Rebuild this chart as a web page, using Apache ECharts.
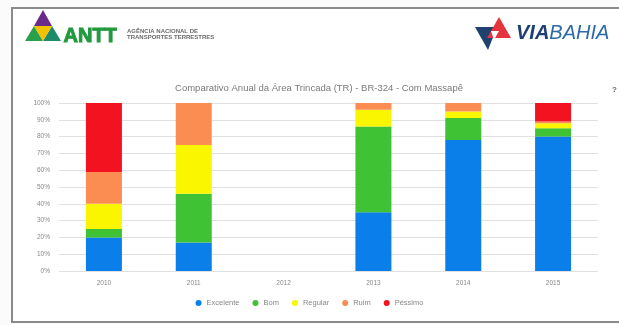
<!DOCTYPE html>
<html><head><meta charset="utf-8">
<script src="https://cdn.jsdelivr.net/npm/echarts@6/dist/echarts.min.js"></script>
<style>html,body{margin:0;padding:0;background:#fbfbfb}#c{width:619px;height:325px}</style>
</head><body><div id="c"></div>
<script>
const categories = ['2010', '2011', '2012', '2013', '2014', '2015'];
const excelente = [20, 17, null, 35, 78, 80];
const bom = [5, 29, null, 51, 13, 5];
const regular = [15, 29, null, 10, 4, 3];
const ruim = [19, 25, null, 4, 5, 1];
const pessimo = [41, 0, null, 0, 0, 11];
const seriesNames = ['Excelente', 'Bom', 'Regular', 'Ruim', 'Péssimo'];
const yTicks = [0, 10, 20, 30, 40, 50, 60, 70, 80, 90, 100];
const titleText = 'Comparativo Anual da Área Trincada (TR) - BR-324 - Com Massapê';

const colors = ['#0b7fe9', '#3fc233', '#faf600', '#fb8c52', '#f31220'];
const data = [excelente, bom, regular, ruim, pessimo];

const chart = echarts.init(document.getElementById('c'), null, {renderer: 'canvas'});
chart.setOption({
  animation: false,
  backgroundColor: '#fbfbfb',
  color: colors,
  title: {
    text: titleText, left: 314, top: 78, textAlign: 'center',
    textStyle: {fontSize: 9.5, fontWeight: 'normal', color: '#7a7a7a', fontFamily: 'Liberation Sans'}
  },
  legend: {
    data: seriesNames, bottom: 13, left: 'center', icon: 'circle',
    itemWidth: 6, itemHeight: 6, itemGap: 13,
    textStyle: {fontSize: 7.5, color: '#888', fontFamily: 'Liberation Sans'}
  },
  grid: {left: 59, right: 21, top: 103, bottom: 54, containLabel: false},
  xAxis: {
    type: 'category', data: categories,
    axisLine: {show: false}, axisTick: {show: false},
    axisLabel: {fontSize: 6.5, color: '#888', margin: 9, fontFamily: 'Liberation Sans'}
  },
  yAxis: {
    type: 'value', min: 0, max: 100, interval: 10,
    axisLabel: {formatter: v => yTicks.includes(v) ? v + '%' : '', fontSize: 6.5, color: '#888', margin: 9, fontFamily: 'Liberation Sans'},
    splitLine: {lineStyle: {color: '#e0e0e0', width: 1}},
    axisLine: {show: false}, axisTick: {show: false}
  },
  series: seriesNames.map((n, i) => ({
    name: n, type: 'bar', stack: 'a', barWidth: 36, data: data[i],
    itemStyle: {color: colors[i]}
  })),
  graphic: [
    {type: 'rect', shape: {x: 12, y: 8, width: 620, height: 314}, style: {fill: '#ffffff', stroke: '#8a8a8a', lineWidth: 2}, z: -10},
    {type: 'polygon', shape: {points: [[43, 10], [34, 26], [52, 26]]}, style: {fill: '#6a2a8c'}},
    {type: 'polygon', shape: {points: [[34, 26], [25, 41], [43, 41]]}, style: {fill: '#2aa04a'}},
    {type: 'polygon', shape: {points: [[52, 26], [43, 41], [61, 41]]}, style: {fill: '#1d8a6a'}},
    {type: 'polygon', shape: {points: [[34, 26], [52, 26], [43, 41]]}, style: {fill: '#f2c200'}},
    {type: 'text', left: 63, top: 26, style: {text: 'ANTT', font: 'bold 20px "Liberation Sans"', fill: '#22993e', stroke: '#22993e', lineWidth: 1}},
    {type: 'text', left: 127, top: 28, style: {text: 'AGÊNCIA NACIONAL DE\nTRANSPORTES TERRESTRES', font: 'bold 6px "Liberation Sans"', fill: '#6a6a6a', lineHeight: 6.5}},
    {type: 'polygon', shape: {points: [[475, 27], [497, 27], [488, 50]]}, style: {fill: '#1f4170'}},
    {type: 'polygon', shape: {points: [[499, 17], [487, 38], [511, 38]]}, style: {fill: '#e5343c'}},
    {type: 'polygon', shape: {points: [[491, 31], [499, 31], [494, 40]]}, style: {fill: '#ffffff'}},
    {type: 'text', left: 516, top: 23, style: {
      text: '{a|VIA}{b|BAHIA}',
      rich: {
        a: {font: 'italic bold 20px "Liberation Sans"', fill: '#1e3f72'},
        b: {font: 'italic 20px "Liberation Sans"', fill: '#2d6aa6'}
      }
    }},
    {type: 'text', left: 612, top: 86, style: {text: '?', font: 'bold 8px "Liberation Sans"', fill: '#666'}}
  ]
});
</script></body></html>
